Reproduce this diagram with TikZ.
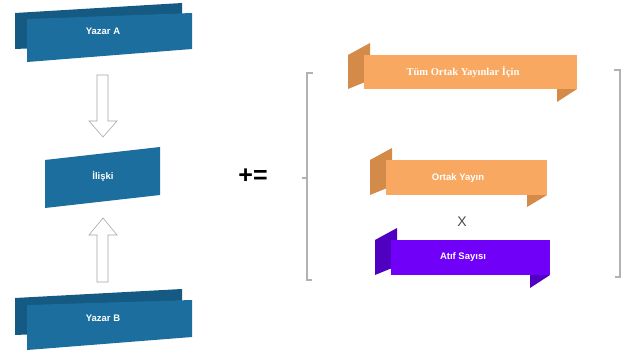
\documentclass[tikz,border=0pt]{standalone}
\usepackage{fontspec}
\setmainfont{Liberation Sans}
\setsansfont{Liberation Sans}
\newfontfamily\serifx{Liberation Serif}
\begin{document}
\begin{tikzpicture}[x=1pt,y=-1pt,
  bluefront/.style={fill=blueA},
  blueback/.style={fill=blueB},
  orfront/.style={fill=orA},
  orfold/.style={fill=orB},
  pufront/.style={fill=puA},
  pufold/.style={fill=puB},
  lbl/.style={text=white,font=\sffamily\bfseries\fontsize{9.5}{11}\selectfont},
  hollow/.style={draw=gray!70,line width=0.6pt,fill=white},
  brk/.style={draw=gray!60,line width=1.4pt}]
\definecolor{blueA}{HTML}{1B6E9E}
\definecolor{blueB}{HTML}{145A82}
\definecolor{orA}{HTML}{F8A860}
\definecolor{orB}{HTML}{D48A48}
\definecolor{puA}{HTML}{7000F8}
\definecolor{puB}{HTML}{5000C0}
\useasboundingbox (0,0) rectangle (625,356);
\fill[white] (0,0) rectangle (625,356);
% Yazar A
\path[blueback] (15,13) -- (182,3) -- (182,42) -- (15,49) -- cycle;
\path[bluefront] (27,19) -- (192,13) -- (192,49) -- (27,62) -- cycle;
\node[lbl] (ya) at (103,31) {Yazar A};
% Ilişki
\path[bluefront] (45,160) -- (160,147) -- (160,195) -- (45,208) -- cycle;
\node[lbl] (il) at (103,176) {İlişki};
% Yazar B
\path[blueback] (15,298) -- (182,289) -- (182,328) -- (15,335) -- cycle;
\path[bluefront] (27,305) -- (192,300) -- (192,337) -- (27,350) -- cycle;
\node[lbl] (yb) at (103,318) {Yazar B};
% arrows
\path[hollow] (97,75) -- (108,75) -- (108,121) -- (117,121) -- (103,137) -- (89,121) -- (97,121) -- cycle;
\path[hollow] (97,282) -- (108,282) -- (108,235) -- (117,235) -- (103,218) -- (89,235) -- (97,235) -- cycle;
% +=
\node[font=\sffamily\bfseries\fontsize{25}{27}\selectfont,inner sep=0pt] (pe) at (253,176) {+=};
% brackets
\draw[brk] (313,73) -- (307,73) -- (307,280) -- (312,280);
\draw[brk] (307,178) -- (302,178);
\draw[brk] (614,70) -- (620,70) -- (620,277) -- (615,277);
% Tum Ortak Yayinlar Icin
\path[orfold] (557,89) -- (577,89) -- (557,102) -- cycle;
\path[orfold] (348,55) -- (370,43) -- (370,80) -- (348,89) -- cycle;
\path[orfront] (364,55) rectangle (577,89);
\node[text=white,font=\serifx\bfseries\fontsize{10.5}{12}\selectfont] (t1) at (463,72) {Tüm Ortak Yayınlar İçin};
% Ortak Yayin
\path[orfold] (527,195) -- (547,195) -- (527,207) -- cycle;
\path[orfold] (370,160) -- (392,148) -- (392,186) -- (370,195) -- cycle;
\path[orfront] (386,160) rectangle (547,195);
\node[lbl] (t2) at (458,178) {Ortak Yayın};
% X
\node[text=black!70,font=\sffamily\fontsize{14}{15}\selectfont] (x) at (462,222) {X};
% Atif Sayisi
\path[pufold] (530,275) -- (550,275) -- (530,288) -- cycle;
\path[pufold] (375,240) -- (397,228) -- (397,266) -- (375,275) -- cycle;
\path[pufront] (391,240) rectangle (550,275);
\node[lbl] (t3) at (463,257) {Atıf Sayısı};
\end{tikzpicture}
\end{document}
